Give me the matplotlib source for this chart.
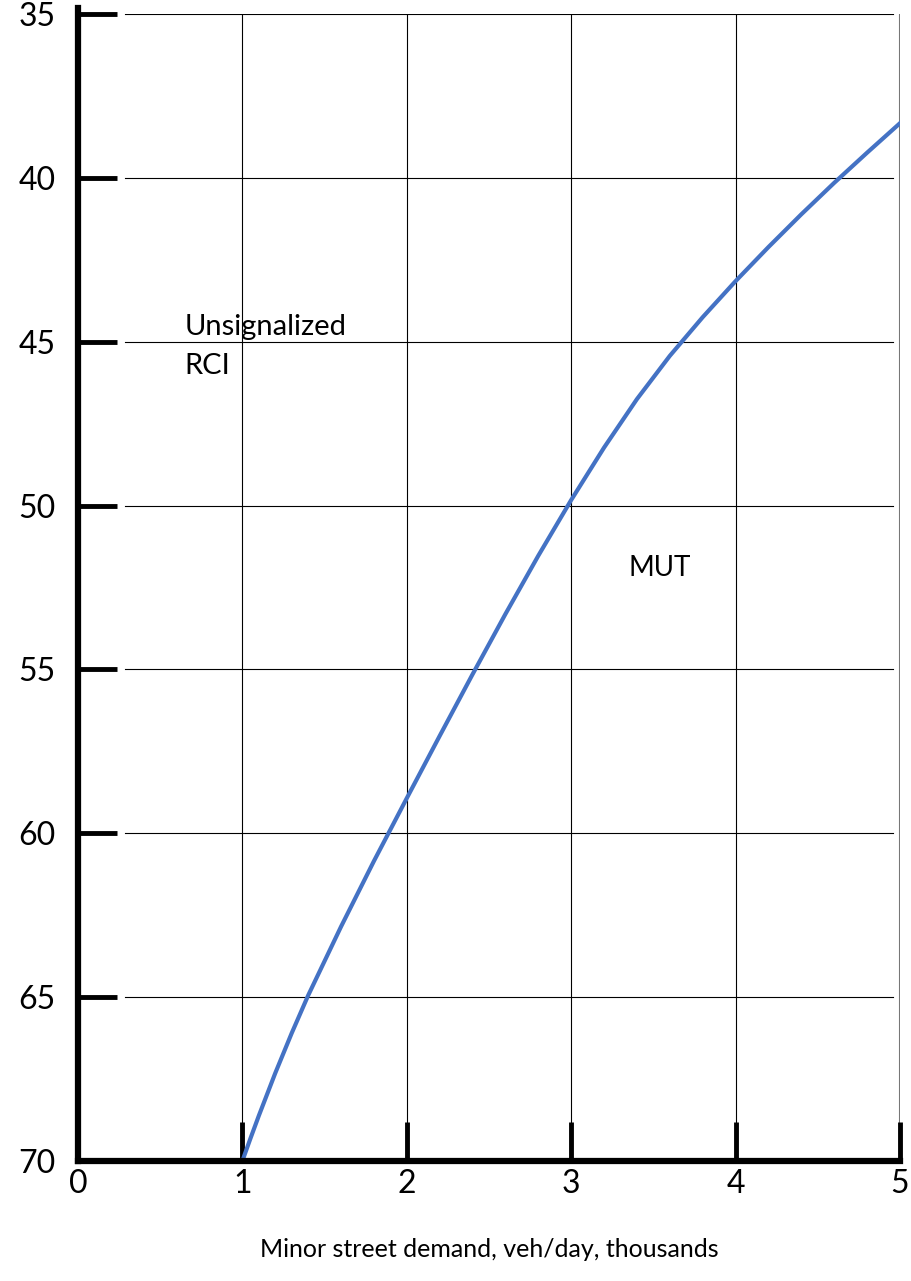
import matplotlib.pyplot as plt

plt.rcParams['font.family'] = ['Lato', 'DejaVu Sans']

# curve: minor street demand (thousands veh/day) vs value
demand = [1.0, 1.05, 1.1, 1.2, 1.3, 1.4, 1.6, 1.8, 2.0, 2.2, 2.4, 2.6, 2.8,
          3.0, 3.2, 3.4, 3.6, 3.8, 4.0, 4.2, 4.4, 4.6, 4.8, 5.0]
value = [70.0, 69.3, 68.62, 67.32, 66.1, 64.95, 62.85, 60.85, 58.93, 57.03,
         55.15, 53.31, 51.53, 49.83, 48.23, 46.75, 45.43, 44.25, 43.15,
         42.11, 41.11, 40.15, 39.23, 38.33]

x_ticks = [1, 2, 3, 4, 5]
y_ticks = [35, 40, 45, 50, 55, 60, 65, 70]

fig = plt.figure(figsize=(9.12, 12.81), dpi=100)
ax = fig.add_axes([0.0855, 0.0937, 0.9013, 0.8953])

ax.set_xlim(0, 5)
ax.set_ylim(70, 35)

# grid: horizontal lines start after the tick marks
for y in y_ticks[:-1]:
    ax.axhline(y, xmin=0.057, xmax=0.991, color='black', lw=0.8, zorder=1)
for x in x_ticks[:-1]:
    ax.axvline(x, color='black', lw=0.8, zorder=1)
ax.axvline(5, color='#777777', lw=1.5, zorder=1)

ax.plot(demand, value, color='#4472C4', lw=3, zorder=3,
        solid_joinstyle='round')

ax.text(0.65, 44.15, 'Unsignalized\nRCI', fontsize=21, va='top', ha='left',
        linespacing=1.6)
ax.text(3.54, 51.9, 'MUT', fontsize=20, va='center', ha='center')

for side in ['top', 'right']:
    ax.spines[side].set_visible(False)
for side in ['left', 'bottom']:
    ax.spines[side].set_linewidth(4.5)
    ax.spines[side].set_zorder(4)
ax.spines['left'].set_bounds(70, 34.8)

ax.set_yticks(y_ticks)
ax.set_xticks([0] + x_ticks)
ax.tick_params(axis='y', direction='in', length=28, width=3.5, pad=16,
               labelsize=23)
ax.tick_params(axis='x', direction='in', length=28, width=3.5, pad=6,
               labelsize=23)
ax.xaxis.get_major_ticks()[0].tick1line.set_visible(False)

ax.set_xlabel('Minor street demand, veh/day, thousands', fontsize=18,
              labelpad=28)

fig.savefig('out.png', dpi=100)
